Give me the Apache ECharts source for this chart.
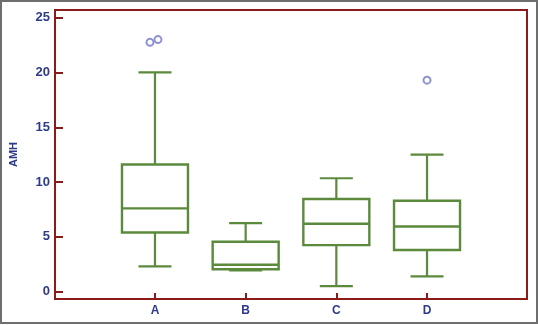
<!DOCTYPE html>
<html>
<head>
<meta charset="utf-8">
<script src="https://cdn.jsdelivr.net/npm/echarts@6/dist/echarts.min.js"></script>
<style>
  html, body { margin: 0; padding: 0; background: #fff; }
  #main { width: 538px; height: 325px; }
</style>
</head>
<body>
<div id="main"></div>
<script>
// box statistics
const categories = ['A', 'B', 'C', 'D'];
const mins = [2.3, 1.95, 0.5, 1.4];
const q1s = [5.4, 2.05, 4.25, 3.8];
const medians = [7.6, 2.45, 6.2, 5.95];
const q3s = [11.6, 4.55, 8.45, 8.3];
const maxs = [20.0, 6.25, 10.35, 12.5];
const outlierCats = ['A', 'A', 'D'];
const outlierValues = [22.75, 23.0, 19.3];
const yTicks = [0, 5, 10, 15, 20, 25];

const frameColor = '#8b1a1a';
const boxColor = '#5b8a3c';
const labelColor = '#2d3a8a';

let myChart = echarts.init(document.getElementById('main'));

const boxData = categories.map((c, i) => [i + 1, mins[i], q1s[i], medians[i], q3s[i], maxs[i]]);
const jitter = [-5, 3, 0];
const outlierData = outlierValues.map((v, i) => ({
  value: [categories.indexOf(outlierCats[i]) + 1, v],
  symbolOffset: [jitter[i], 0]
}));

function renderBox(params, api) {
  const x = api.value(0);
  const pMin = api.coord([x, api.value(1)]);
  const pQ1 = api.coord([x, api.value(2)]);
  const pMed = api.coord([x, api.value(3)]);
  const pQ3 = api.coord([x, api.value(4)]);
  const pMax = api.coord([x, api.value(5)]);
  const cx = pMed[0];
  const hw = 33;
  const cw = 16.5;
  const boxStyle = { stroke: boxColor, lineWidth: 2.4, fill: 'none' };
  const lineStyle = { stroke: boxColor, lineWidth: 2.2 };
  return {
    type: 'group',
    children: [
      { type: 'line', shape: { x1: cx, y1: pQ3[1], x2: cx, y2: pMax[1] }, style: lineStyle },
      { type: 'line', shape: { x1: cx, y1: pQ1[1], x2: cx, y2: pMin[1] }, style: lineStyle },
      { type: 'line', shape: { x1: cx - cw, y1: pMax[1], x2: cx + cw, y2: pMax[1] }, style: lineStyle },
      { type: 'line', shape: { x1: cx - cw, y1: pMin[1], x2: cx + cw, y2: pMin[1] }, style: lineStyle },
      { type: 'rect', shape: { x: cx - hw, y: pQ3[1], width: hw * 2, height: pQ1[1] - pQ3[1] }, style: boxStyle },
      { type: 'line', shape: { x1: cx - hw, y1: pMed[1], x2: cx + hw, y2: pMed[1] }, style: boxStyle }
    ]
  };
}

myChart.setOption({
  animation: false,
  backgroundColor: '#fff',
  graphic: [{
    type: 'rect',
    shape: { x: 1, y: 1, width: 536, height: 322 },
    style: { fill: 'none', stroke: '#6e6e6e', lineWidth: 2 },
    z: 100
  }],
  grid: {
    left: 55, top: 10, right: 11, bottom: 26,
    show: true, borderColor: frameColor, borderWidth: 2
  },
  xAxis: {
    type: 'value',
    min: -0.1025,
    max: 5.1025,
    splitLine: { show: false },
    axisLine: { show: true, onZero: false, lineStyle: { color: frameColor, width: 2 } },
    axisTick: {
      show: true, inside: true, length: 6,
      customValues: [1, 2, 3, 4],
      lineStyle: { color: frameColor, width: 2 }
    },
    axisLabel: {
      customValues: [1, 2, 3, 4],
      formatter: v => categories[Math.round(v) - 1] || '',
      color: labelColor, fontSize: 12, fontWeight: 'bold',
      fontFamily: 'Liberation Sans', margin: 6
    }
  },
  yAxis: {
    type: 'value',
    min: -0.67,
    max: 25.7,
    name: 'AMH',
    nameLocation: 'middle',
    nameGap: 36,
    nameRotate: 90,
    nameTextStyle: { color: labelColor, fontSize: 11, fontWeight: 'bold', fontFamily: 'Liberation Sans' },
    splitLine: { show: false },
    axisLine: { show: true, onZero: false, lineStyle: { color: frameColor, width: 2 } },
    axisTick: {
      show: true, inside: true, length: 8,
      customValues: yTicks,
      lineStyle: { color: frameColor, width: 2 }
    },
    axisLabel: {
      customValues: yTicks,
      color: labelColor, fontSize: 13, fontWeight: 'bold',
      fontFamily: 'Liberation Sans', margin: 5
    }
  },
  series: [
    {
      type: 'custom',
      renderItem: renderBox,
      data: boxData,
      encode: { x: 0, y: [1, 2, 3, 4, 5] }
    },
    {
      type: 'scatter',
      data: outlierData,
      symbol: 'emptyCircle',
      symbolSize: 7,
      itemStyle: { color: '#7377c4', borderWidth: 1.2 }
    }
  ]
});
</script>
</body>
</html>
